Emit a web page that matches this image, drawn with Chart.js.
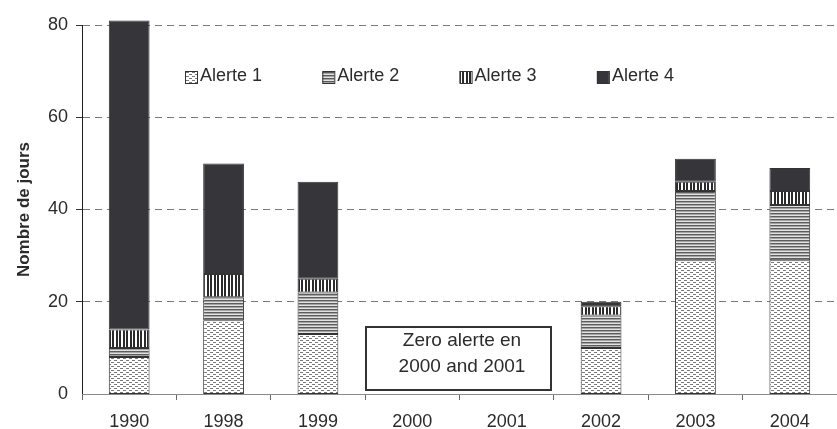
<!DOCTYPE html>
<html>
<head>
<meta charset="utf-8">
<script src="https://cdn.jsdelivr.net/npm/chart.js@4/dist/chart.umd.min.js"></script>
<style>
  html, body { margin: 0; padding: 0; background: #ffffff; }
  #wrap { width: 837px; height: 429px; }
</style>
</head>
<body>
<div id="wrap"><canvas id="alertes" width="837" height="429"></canvas></div>
<script>
// Years on the x axis and number of alert days per level (stacked).
const years   = ["1990", "1998", "1999", "2000", "2001", "2002", "2003", "2004"];
const alerte1 = [8, 16, 13, 0, 0, 10, 29, 29];
const alerte2 = [2, 5, 9, 0, 0, 7, 15, 12];
const alerte3 = [4, 5, 3, 0, 0, 2, 2, 3];
const alerte4 = [67, 24, 21, 0, 0, 1, 5, 5];
const seriesNames = ["Alerte 1", "Alerte 2", "Alerte 3", "Alerte 4"];
const yTicks = [0, 20, 40, 60, 80];
const noteLines = ["Zero alerte en", "2000 and 2001"];

const FONT = "'Liberation Sans', Arial, Helvetica, sans-serif";
const TEXT = "#2b2b2b";

(() => {
  const ctx = document.getElementById("alertes").getContext("2d");

  // small tile -> CanvasPattern helper
  function tile(w, h, draw) {
    const c = document.createElement("canvas");
    c.width = w; c.height = h;
    const t = c.getContext("2d");
    draw(t);
    return ctx.createPattern(c, "repeat");
  }

  // Alerte 1: white with short staggered dashes
  const dotted = tile(6, 4, (t) => {
    t.fillStyle = "#ffffff"; t.fillRect(0, 0, 6, 4);
    t.fillStyle = "#7a7a7a";
    t.fillRect(0, 0, 3, 1);
    t.fillRect(3, 2, 3, 1);
  });
  // Alerte 2: fine horizontal lines
  const hLines = tile(1, 3, (t) => {
    t.fillStyle = "#5c5c5c"; t.fillRect(0, 0, 1, 1);
    t.fillStyle = "#a4a4a4"; t.fillRect(0, 1, 1, 1);
    t.fillStyle = "#e2e2e2"; t.fillRect(0, 2, 1, 1);
  });
  // Alerte 3: vertical black / white stripes
  const vLines = tile(7, 1, (t) => {
    t.fillStyle = "#ffffff"; t.fillRect(0, 0, 7, 1);
    t.fillStyle = "#2a2a2a";
    t.fillRect(0, 0, 2, 1);
    t.fillRect(4, 0, 2, 1);
  });
  const solid = "#363539";
  const fills = [dotted, hLines, vLines, solid];

  // Legend row drawn inside the plot area, above the bars
  const legendRow = {
    id: "legendRow",
    afterDatasetsDraw(chart) {
      const c = chart.ctx;
      c.save();
      c.font = "18px " + FONT;
      c.textBaseline = "middle";
      c.textAlign = "left";
      seriesNames.forEach((name, i) => {
        const x = 185 + i * 137.3;
        const y = 71;
        c.fillStyle = fills[i];
        c.fillRect(x, y, 12, 12);
        c.strokeStyle = "#333333";
        c.lineWidth = 1;
        c.strokeRect(x + 0.5, y + 0.5, 12, 12);
        c.fillStyle = TEXT;
        c.fillText(name, x + 15, 76);
      });
      c.restore();
    }
  };

  // Framed note for the two years without any alert
  const noteBox = {
    id: "noteBox",
    afterDatasetsDraw(chart) {
      const c = chart.ctx;
      c.save();
      c.fillStyle = "#ffffff";
      c.fillRect(366, 327, 185, 63);
      c.strokeStyle = "#333333";
      c.lineWidth = 2;
      c.strokeRect(366, 327, 185, 63);
      c.fillStyle = TEXT;
      c.font = "19px " + FONT;
      c.textAlign = "center";
      c.textBaseline = "middle";
      c.fillText(noteLines[0], 462, 341);
      c.fillText(noteLines[1], 462, 367);
      c.restore();
    }
  };

  const seriesData = [alerte1, alerte2, alerte3, alerte4];

  new Chart(ctx, {
    type: "bar",
    data: {
      labels: years,
      datasets: seriesNames.map((name, i) => ({
        label: name,
        data: seriesData[i],
        backgroundColor: fills[i],
        borderColor: "#333333",
        borderWidth: (c) => (c.raw ? 1 : 0),
        borderSkipped: false,
        barPercentage: 0.432,
        categoryPercentage: 1,
        clip: false
      }))
    },
    options: {
      responsive: false,
      animation: false,
      events: [],
      layout: { padding: { top: 25, right: -5, left: 0, bottom: 0 } },
      plugins: {
        legend: { display: false },
        tooltip: { enabled: false }
      },
      scales: {
        x: {
          stacked: true,
          afterFit: (s) => { s.height = 35; },
          border: { display: true, color: "#8a8a8a", width: 1 },
          grid: {
            offset: true,
            drawOnChartArea: false,
            drawTicks: true,
            tickLength: 6,
            color: "#6a6a6a"
          },
          ticks: {
            color: TEXT,
            font: { family: FONT, size: 18 },
            padding: 11,
            maxRotation: 0
          }
        },
        y: {
          stacked: true,
          min: 0,
          max: 80,
          afterFit: (s) => { s.width = 82; },
          afterBuildTicks: (s) => { s.ticks = yTicks.map((v) => ({ value: v })); },
          border: { display: true, color: "#1e1e1e", width: 1, dash: [7, 5] },
          grid: {
            color: "#7a7a7a",
            tickColor: "#333333",
            tickLength: 6,
            lineWidth: (c) => (c.tick && c.tick.value === 0 ? 0 : 1),
            tickBorderDash: [1, 0]
          },
          ticks: {
            color: TEXT,
            font: { family: FONT, size: 18 },
            padding: 8
          },
          title: {
            display: true,
            text: "Nombre de jours",
            color: TEXT,
            font: { family: FONT, size: 17, weight: "bold" },
            padding: { top: 14, bottom: 0 }
          }
        }
      }
    },
    plugins: [legendRow, noteBox]
  });
})();
</script>
</body>
</html>
